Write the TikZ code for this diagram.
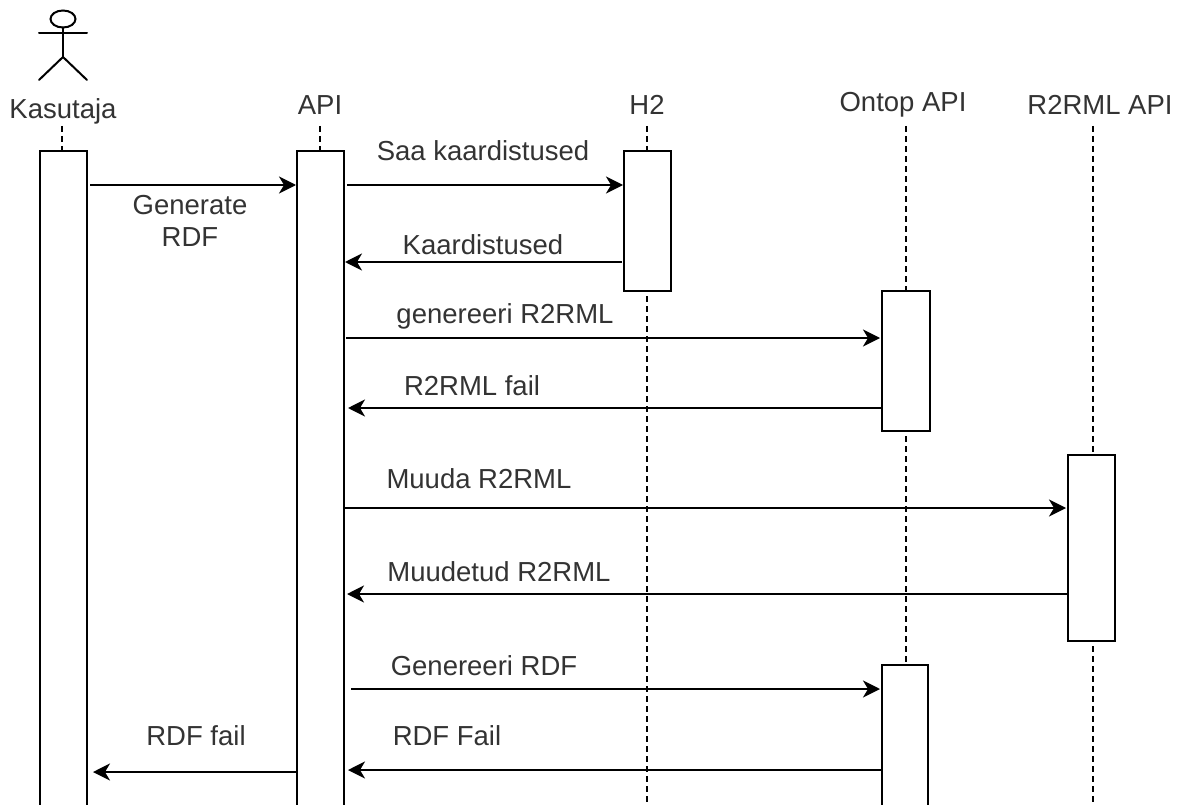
\documentclass[tikz,border=0pt]{standalone}
\usepackage{fontspec}
\setmainfont{Liberation Sans}
\usetikzlibrary{arrows.meta,calc}
\definecolor{txt}{HTML}{333333}
\tikzset{
  bar/.style={draw=black,fill=white,line width=2pt,minimum width=47pt,inner sep=0pt,anchor=north west},
  life/.style={draw=black,line width=2pt,dash pattern=on 6pt off 4pt},
  msg/.style={draw=black,line width=2pt,-{Stealth[length=17pt,width=17pt,inset=5pt]}},
  lab/.style={text=txt,font=\fontsize{27.5}{32}\selectfont,inner sep=0pt,align=center},
  act/.style={draw=black,line width=2pt,line cap=round}
}
\begin{document}
\begin{tikzpicture}[x=1pt,y=-1pt]
\useasboundingbox (0,0) rectangle (1183,805);
\clip (0,0) rectangle (1183,805);
% headers
\node[lab] (hK) at (63,111) {Kasutaja};
\node[lab] (hA) at (320,105) {API};
\node[lab] (hH) at (647,105) {H2};
\node[lab] (hO) at (903,105) {Ontop API};
\node[lab] (hR) at (1100,105) {R2RML API};
% lifeline anchors
\coordinate (lK) at (62,126);
\coordinate (lA) at (320,126);
\coordinate (lH) at (647,126);
\coordinate (lO) at (906,126);
\coordinate (lR) at (1093,126);
\coordinate (eH) at (647,805);
\coordinate (eO) at (906,805);
\coordinate (eR) at (1093,805);
\coordinate (eK) at (62,805);
\coordinate (eA) at (320,805);
\draw[life] (lK) -- (eK);
\draw[life] (lA) -- (eA);
\draw[life] (lH) -- (eH);
\draw[life] (lO) -- (eO);
\draw[life] (lR) -- (eR);
% activation bars
\node[bar,minimum height=670pt] (bK) at (38.7,149.7) {};
\node[bar,minimum height=670pt] (bA) at (296.2,149.7) {};
\node[bar,minimum height=140pt] (bH) at (622.7,149.7) {};
\node[bar,minimum width=48pt,minimum height=140pt] (bO1) at (880.7,290.2) {};
\node[bar,minimum height=186pt] (bR) at (1066.7,454.2) {};
\node[bar,minimum width=46pt,minimum height=160pt] (bO2) at (880.7,664.2) {};
% actor
\draw[act] (63,19) ellipse [x radius=12.5, y radius=8.5];
\draw[act] (39,33) -- (87,33);
\draw[act] (63,27.5) -- (63,57);
\draw[act] (39,80) -- (63,57) -- (87,80);
% messages
\coordinate (m1s) at (90,185);   \coordinate (m1e) at (296,185);
\coordinate (m2s) at (347,185);  \coordinate (m2e) at (623,185);
\coordinate (m3s) at (622,262);  \coordinate (m3e) at (345,262);
\coordinate (m4s) at (346,338);  \coordinate (m4e) at (880,338);
\coordinate (m5s) at (881,408);  \coordinate (m5e) at (348,408);
\coordinate (m6s) at (345,508);  \coordinate (m6e) at (1066,508);
\coordinate (m7s) at (1067,594); \coordinate (m7e) at (347,594);
\coordinate (m8s) at (351,689);  \coordinate (m8e) at (880,689);
\coordinate (m9s) at (881,770);  \coordinate (m9e) at (348,770);
\coordinate (m10s) at (297,772); \coordinate (m10e) at (93,772);
\draw[msg] (m1s) -- (m1e);
\draw[msg] (m2s) -- (m2e);
\draw[msg] (m3s) -- (m3e);
\draw[msg] (m4s) -- (m4e);
\draw[msg] (m5s) -- (m5e);
\draw[msg] (m6s) -- (m6e);
\draw[msg] (m7s) -- (m7e);
\draw[msg] (m8s) -- (m8e);
\draw[msg] (m9s) -- (m9e);
\draw[msg] (m10s) -- (m10e);
% labels
\node[lab] (t1) at (190,221) {Generate\\RDF};
\node[lab] (t2) at (483,151) {Saa kaardistused};
\node[lab] (t3) at (483,245) {Kaardistused};
\node[lab] (t4) at (505,316) {genereeri R2RML};
\node[lab] (t5) at (472,386) {R2RML fail};
\node[lab] (t6) at (479,479) {Muuda R2RML};
\node[lab] (t7) at (499,572) {Muudetud R2RML};
\node[lab] (t8) at (484,666) {Genereeri RDF};
\node[lab] (t9) at (447,736) {RDF Fail};
\node[lab] (t10) at (196,736) {RDF fail};
\end{tikzpicture}
\end{document}
